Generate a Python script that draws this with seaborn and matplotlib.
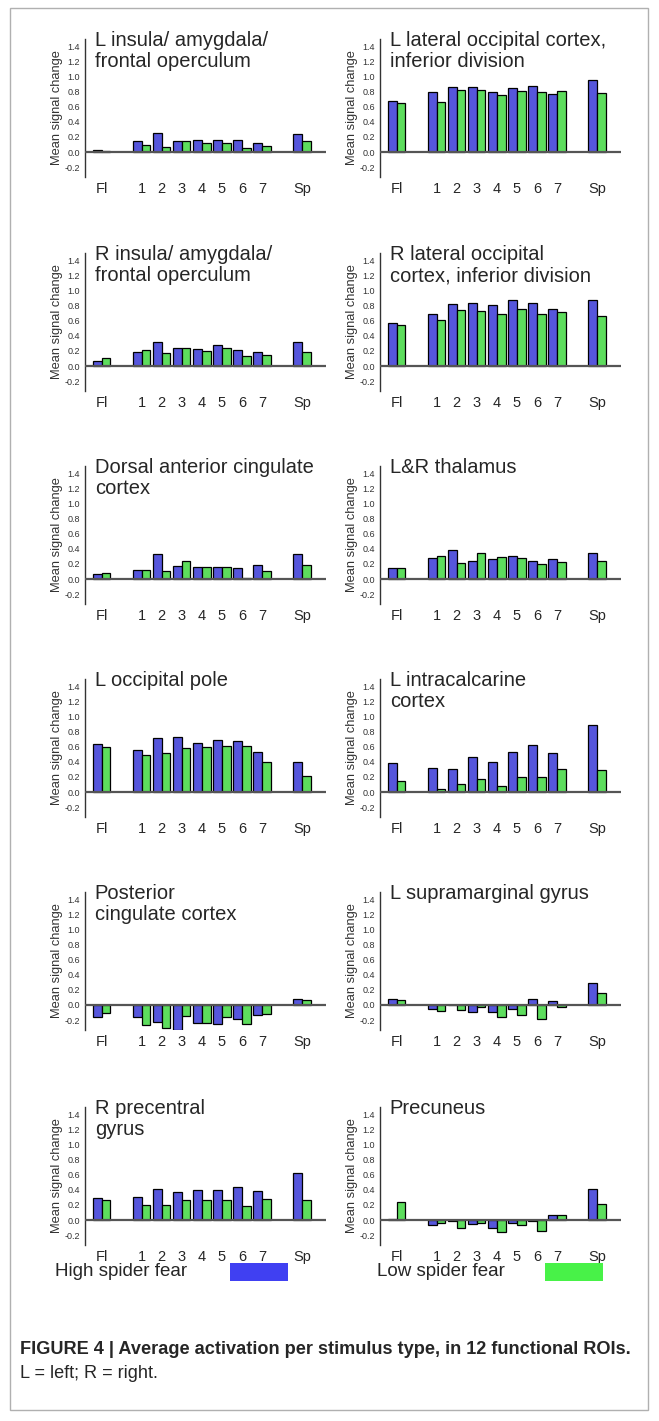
###########################################################################################
# imports
import pandas as pd
import seaborn as sns
import matplotlib.pyplot as plt
from matplotlib.patches import Rectangle

###########################################################################################
# data

stimuli = ['Fl', '1', '2', '3', '4', '5', '6', '7', 'Sp']
groups = ['High spider fear', 'Low spider fear']

titles = ['L insula/ amygdala/\nfrontal operculum',
          'L lateral occipital cortex,\ninferior division',
          'R insula/ amygdala/\nfrontal operculum',
          'R lateral occipital\ncortex, inferior division',
          'Dorsal anterior cingulate\ncortex',
          'L&R thalamus',
          'L occipital pole',
          'L intracalcarine\ncortex',
          'Posterior\ncingulate cortex',
          'L supramarginal gyrus',
          'R precentral\ngyrus',
          'Precuneus']

# high spider fear (blue) per panel
high_fear = [
    [0.03, 0.14, 0.25, 0.14, 0.155, 0.16, 0.155, 0.115, 0.235],
    [0.68, 0.79, 0.86, 0.86, 0.80, 0.85, 0.87, 0.77, 0.96],
    [0.06, 0.18, 0.32, 0.24, 0.22, 0.28, 0.21, 0.18, 0.315],
    [0.57, 0.69, 0.82, 0.83, 0.81, 0.87, 0.83, 0.75, 0.88],
    [0.07, 0.12, 0.33, 0.17, 0.16, 0.16, 0.15, 0.19, 0.335],
    [0.15, 0.28, 0.39, 0.24, 0.27, 0.31, 0.24, 0.27, 0.35],
    [0.64, 0.55, 0.72, 0.73, 0.65, 0.69, 0.68, 0.53, 0.40],
    [0.39, 0.32, 0.31, 0.46, 0.40, 0.53, 0.62, 0.51, 0.89],
    [-0.165, -0.165, -0.23, -0.33, -0.235, -0.25, -0.19, -0.135, 0.08],
    [0.075, -0.055, 0.005, -0.09, -0.095, -0.05, 0.075, 0.05, 0.295],
    [0.29, 0.31, 0.41, 0.365, 0.40, 0.395, 0.44, 0.39, 0.62],
    [0.01, -0.065, -0.01, -0.055, -0.11, -0.035, -0.01, 0.065, 0.41],
]

# low spider fear (green) per panel
low_fear = [
    [0.01, 0.09, 0.06, 0.15, 0.12, 0.115, 0.05, 0.085, 0.14],
    [0.65, 0.66, 0.82, 0.82, 0.76, 0.81, 0.80, 0.81, 0.78],
    [0.10, 0.21, 0.17, 0.24, 0.20, 0.24, 0.13, 0.14, 0.18],
    [0.54, 0.61, 0.74, 0.73, 0.69, 0.76, 0.69, 0.71, 0.66],
    [0.075, 0.12, 0.10, 0.24, 0.165, 0.155, 0.01, 0.10, 0.18],
    [0.14, 0.31, 0.21, 0.35, 0.29, 0.28, 0.20, 0.23, 0.24],
    [0.60, 0.49, 0.52, 0.58, 0.59, 0.61, 0.61, 0.40, 0.21],
    [0.15, 0.04, 0.10, 0.17, 0.08, 0.20, 0.20, 0.30, 0.29],
    [-0.10, -0.26, -0.30, -0.15, -0.245, -0.165, -0.25, -0.125, 0.07],
    [0.065, -0.08, -0.06, -0.03, -0.155, -0.13, -0.185, -0.025, 0.16],
    [0.265, 0.20, 0.195, 0.26, 0.265, 0.265, 0.19, 0.275, 0.26],
    [0.235, -0.04, -0.10, -0.04, -0.16, -0.065, -0.145, 0.06, 0.215],
]

# empty slots keep the gaps between Fl / 1-7 / Sp
slot_order = ['Fl', 'gap_a', '1', '2', '3', '4', '5', '6', '7', 'gap_b', 'Sp']
yticks = [-0.2, 0.0, 0.2, 0.4, 0.6, 0.8, 1.0, 1.2, 1.4]

colors = {'High spider fear': '#4040f2', 'Low spider fear': '#48f248'}

###########################################################################################
# layout (pixels of the 659x1421 canvas)

W, H = 659, 1421
col_left = [85, 380]
ax_w = 241
zero_rows = [152, 366, 579, 792, 1005, 1220]
px_per_unit = 75.5
y_lo, y_hi = -0.33, 1.5


def panel_frame(i):
    row, col = divmod(i, 2)
    bottom_px = zero_rows[row] - y_lo * px_per_unit
    height_px = (y_hi - y_lo) * px_per_unit
    return [col_left[col] / W, 1 - bottom_px / H, ax_w / W, height_px / H]


def draw_panel(ax, i):
    df = pd.DataFrame({
        'stim': stimuli * 2,
        'group': [groups[0]] * len(stimuli) + [groups[1]] * len(stimuli),
        'value': high_fear[i] + low_fear[i],
    })
    sns.barplot(data=df, x='stim', y='value', hue='group', order=slot_order,
                hue_order=groups, palette=colors, width=0.87,
                edgecolor='black', linewidth=0.9, ax=ax, legend=False)

    ax.axhline(0, color='#555555', lw=1.6, zorder=5)
    ax.set_xlim(-0.83, 11.2)
    ax.set_ylim(y_lo, y_hi)
    ax.set_yticks(yticks)
    ax.set_yticklabels([f'{t:.1f}' for t in yticks], fontsize=6.5, color='#333333')
    ax.tick_params(axis='y', length=2.5, width=0.8, pad=1, color='#333333')

    ticks = [slot_order.index(s) for s in stimuli]
    ax.set_xticks(ticks)
    ax.set_xticklabels(stimuli, fontsize=10.5)
    ax.tick_params(axis='x', length=0, pad=4)

    ax.set_xlabel('')
    ax.set_ylabel('Mean signal change', fontsize=9.3, color='#333333', labelpad=1)

    for side in ['top', 'right', 'bottom']:
        ax.spines[side].set_visible(False)
    ax.spines['left'].set_color('#333333')
    ax.spines['left'].set_linewidth(1.0)
    ax.patch.set_alpha(0)

    ax.text(0.04, 1.055, titles[i], transform=ax.transAxes, ha='left', va='top',
            fontsize=14.5, linespacing=1.15)


###########################################################################################
# main


def main():
    sns.set_style('white')
    plt.rcParams['font.family'] = ['Liberation Sans', 'DejaVu Sans']

    fig = plt.figure(figsize=(W / 100, H / 100), dpi=100)

    # outer frame
    fig.patches.append(Rectangle((10 / W, 1 - 1410 / H), 638 / W, 1402 / H,
                                 transform=fig.transFigure, fill=False,
                                 edgecolor='#b0b0b0', lw=1.0))

    for i in range(len(titles)):
        ax = fig.add_axes(panel_frame(i))
        draw_panel(ax, i)

    # legend row
    for label, tx, rx in [(groups[0], 55, 230), (groups[1], 377, 545)]:
        fig.text(tx / W, 1 - 1272 / H, label, fontsize=13.5, va='center', ha='left')
        fig.patches.append(Rectangle((rx / W, 1 - 1281 / H), 58 / W, 18 / H,
                                     transform=fig.transFigure,
                                     facecolor=colors[label], edgecolor='none'))

    # caption
    fig.text(20 / W, 1 - 1349 / H,
             'FIGURE 4 | Average activation per stimulus type, in 12 functional ROIs.',
             fontsize=13.1, fontweight='bold', va='center', ha='left')
    fig.text(20 / W, 1 - 1373 / H, 'L = left; R = right.',
             fontsize=13.1, va='center', ha='left')

    fig.savefig('out.png', dpi=100)


if __name__ == '__main__':
    main()
